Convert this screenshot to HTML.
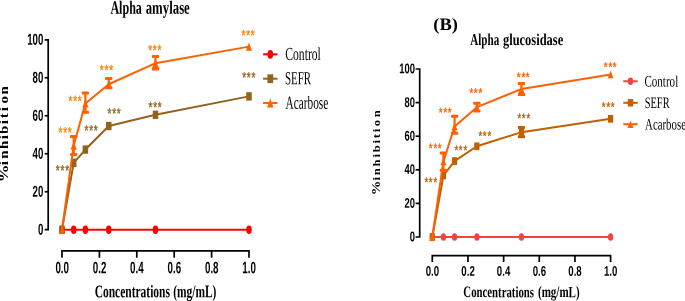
<!DOCTYPE html>
<html><head><meta charset="utf-8"><title>Enzyme inhibition</title>
<style>html,body{margin:0;padding:0;background:#fff}svg{display:block;will-change:transform}</style></head>
<body><svg width="685" height="301" viewBox="0 0 685 301">
<rect width="685" height="301" fill="#fff"/>
<path d="M44.70 39.80 H48.20 V229.70 H44.70" fill="none" stroke="#000" stroke-width="1.70"/>
<path d="M44.70 77.78 H48.20" stroke="#000" stroke-width="1.70"/>
<path d="M44.70 115.76 H48.20" stroke="#000" stroke-width="1.70"/>
<path d="M44.70 153.74 H48.20" stroke="#000" stroke-width="1.70"/>
<path d="M44.70 191.72 H48.20" stroke="#000" stroke-width="1.70"/>
<path d="M62.00 257.70 V250.80 H249.00 V257.70" fill="none" stroke="#000" stroke-width="1.70"/>
<path d="M99.40 250.80 V257.70" stroke="#000" stroke-width="1.70"/>
<path d="M136.80 250.80 V257.70" stroke="#000" stroke-width="1.70"/>
<path d="M174.20 250.80 V257.70" stroke="#000" stroke-width="1.70"/>
<path d="M211.60 250.80 V257.70" stroke="#000" stroke-width="1.70"/>
<path d="M62.00 229.70 H249.00" stroke="#FF0000" stroke-width="2"/>
<ellipse cx="62.00" cy="229.70" rx="2.75" ry="4.20" fill="#FF0000"/>
<ellipse cx="73.69" cy="229.70" rx="2.75" ry="4.20" fill="#FF0000"/>
<ellipse cx="85.38" cy="229.70" rx="2.75" ry="4.20" fill="#FF0000"/>
<ellipse cx="108.75" cy="229.70" rx="2.75" ry="4.20" fill="#FF0000"/>
<ellipse cx="155.50" cy="229.70" rx="2.75" ry="4.20" fill="#FF0000"/>
<ellipse cx="249.00" cy="229.70" rx="2.75" ry="4.20" fill="#FF0000"/>
<polyline points="62.00,229.70 73.69,162.86 85.38,149.56 108.75,126.01 155.50,114.81 249.00,96.39" fill="none" stroke="#93631E" stroke-width="2" stroke-linejoin="round"/>
<rect x="59.25" y="225.50" width="5.50" height="8.40" fill="#93631E"/>
<rect x="70.94" y="158.66" width="5.50" height="8.40" fill="#93631E"/>
<rect x="82.62" y="145.36" width="5.50" height="8.40" fill="#93631E"/>
<rect x="106.00" y="121.81" width="5.50" height="8.40" fill="#93631E"/>
<rect x="152.75" y="110.61" width="5.50" height="8.40" fill="#93631E"/>
<rect x="246.25" y="92.19" width="5.50" height="8.40" fill="#93631E"/>
<polyline points="62.00,229.70 73.69,145.57 85.38,103.42 108.75,84.24 155.50,63.16 249.00,46.64" fill="none" stroke="#FF6000" stroke-width="2" stroke-linejoin="round"/>
<path d="M62.00 225.50 L65.05 233.90 L58.95 233.90 Z" fill="#FF6000"/>
<path d="M73.69 136.46 V154.40" stroke="#FF6000" stroke-width="2.2" fill="none"/><rect x="70.04" y="134.96" width="7.30" height="3.00" rx="0.9" fill="#FF6000"/><rect x="70.04" y="152.90" width="7.30" height="3.00" rx="0.9" fill="#FF6000"/>
<path d="M73.69 141.37 L76.74 149.77 L70.64 149.77 Z" fill="#FF6000"/>
<path d="M85.38 92.97 V112.34" stroke="#FF6000" stroke-width="2.2" fill="none"/><rect x="81.72" y="91.47" width="7.30" height="3.00" rx="0.9" fill="#FF6000"/><rect x="81.72" y="110.84" width="7.30" height="3.00" rx="0.9" fill="#FF6000"/>
<path d="M85.38 99.22 L88.42 107.62 L82.33 107.62 Z" fill="#FF6000"/>
<path d="M108.75 78.54 V87.65" stroke="#FF6000" stroke-width="2.2" fill="none"/><rect x="105.10" y="77.04" width="7.30" height="3.00" rx="0.9" fill="#FF6000"/><rect x="105.10" y="86.15" width="7.30" height="3.00" rx="0.9" fill="#FF6000"/>
<path d="M108.75 80.04 L111.80 88.44 L105.70 88.44 Z" fill="#FF6000"/>
<path d="M155.50 56.51 V69.04" stroke="#FF6000" stroke-width="2.2" fill="none"/><rect x="151.85" y="55.01" width="7.30" height="3.00" rx="0.9" fill="#FF6000"/><rect x="151.85" y="67.54" width="7.30" height="3.00" rx="0.9" fill="#FF6000"/>
<path d="M155.50 58.96 L158.55 67.36 L159.10 69.04 L151.90 69.04 L152.45 67.36 Z" fill="#FF6000"/>
<path d="M249.00 42.44 L252.05 50.84 L245.95 50.84 Z" fill="#FF6000"/>
<path d="M263.10 54.30 H277.50" stroke="#FF0000" stroke-width="2"/>
<ellipse cx="270.30" cy="54.30" rx="2.90" ry="4.40" fill="#FF0000"/>
<path d="M263.10 78.70 H277.50" stroke="#93631E" stroke-width="2"/>
<rect x="267.40" y="74.30" width="5.80" height="8.80" fill="#93631E"/>
<path d="M263.10 103.00 H277.50" stroke="#FF6000" stroke-width="2"/>
<path d="M270.30 98.60 L273.50 107.40 L267.10 107.40 Z" fill="#FF6000"/>
<text transform="translate(7.8 182.30) rotate(-90) scale(1.22 1)" font-family="'Liberation Serif', serif" font-weight="bold" font-size="12.3" letter-spacing="1.25" fill="#000" dx="0 -1.9 0.6 0 0 -0.5 0 0.3 0.4 1.5 0"><tspan font-size="14.60">%</tspan>inhibition</text>
<path d="M415.60 69.00 H419.70 V237.00 H415.60" fill="none" stroke="#000" stroke-width="1.70"/>
<path d="M415.60 102.60 H419.70" stroke="#000" stroke-width="1.70"/>
<path d="M415.60 136.20 H419.70" stroke="#000" stroke-width="1.70"/>
<path d="M415.60 169.80 H419.70" stroke="#000" stroke-width="1.70"/>
<path d="M415.60 203.40 H419.70" stroke="#000" stroke-width="1.70"/>
<path d="M432.30 262.00 V255.70 H610.60 V262.00" fill="none" stroke="#000" stroke-width="1.70"/>
<path d="M467.96 255.70 V262.00" stroke="#000" stroke-width="1.70"/>
<path d="M503.62 255.70 V262.00" stroke="#000" stroke-width="1.70"/>
<path d="M539.28 255.70 V262.00" stroke="#000" stroke-width="1.70"/>
<path d="M574.94 255.70 V262.00" stroke="#000" stroke-width="1.70"/>
<path d="M432.30 237.00 H610.60" stroke="#F74040" stroke-width="2"/>
<ellipse cx="432.30" cy="237.00" rx="2.60" ry="3.85" fill="#F74040"/>
<ellipse cx="443.44" cy="237.00" rx="2.60" ry="3.85" fill="#F74040"/>
<ellipse cx="454.59" cy="237.00" rx="2.60" ry="3.85" fill="#F74040"/>
<ellipse cx="476.88" cy="237.00" rx="2.60" ry="3.85" fill="#F74040"/>
<ellipse cx="521.45" cy="237.00" rx="2.60" ry="3.85" fill="#F74040"/>
<ellipse cx="610.60" cy="237.00" rx="2.60" ry="3.85" fill="#F74040"/>
<polyline points="432.30,237.00 443.44,175.51 454.59,161.06 476.88,146.28 521.45,132.17 610.60,118.81" fill="none" stroke="#C06000" stroke-width="2" stroke-linejoin="round"/>
<rect x="429.70" y="233.15" width="5.20" height="7.70" fill="#C06000"/>
<rect x="440.84" y="171.66" width="5.20" height="7.70" fill="#C06000"/>
<rect x="451.99" y="157.21" width="5.20" height="7.70" fill="#C06000"/>
<rect x="474.27" y="142.43" width="5.20" height="7.70" fill="#C06000"/>
<path d="M521.45 127.46 V136.70" stroke="#C06000" stroke-width="2.2" fill="none"/><rect x="517.80" y="125.96" width="7.30" height="3.00" rx="0.9" fill="#C06000"/><rect x="517.80" y="135.20" width="7.30" height="3.00" rx="0.9" fill="#C06000"/>
<rect x="518.85" y="128.32" width="5.20" height="7.70" fill="#C06000"/>
<rect x="608.00" y="114.96" width="5.20" height="7.70" fill="#C06000"/>
<polyline points="432.30,237.00 443.44,161.40 454.59,126.46 476.88,107.14 521.45,88.99 610.60,74.46" fill="none" stroke="#FF6000" stroke-width="2" stroke-linejoin="round"/>
<path d="M432.30 233.15 L435.20 240.85 L429.40 240.85 Z" fill="#FF6000"/>
<path d="M443.44 153.00 V170.30" stroke="#FF6000" stroke-width="2.2" fill="none"/><rect x="439.79" y="151.50" width="7.30" height="3.00" rx="0.9" fill="#FF6000"/><rect x="439.79" y="168.80" width="7.30" height="3.00" rx="0.9" fill="#FF6000"/>
<path d="M443.44 157.55 L446.34 165.25 L440.54 165.25 Z" fill="#FF6000"/>
<path d="M454.59 116.21 V133.34" stroke="#FF6000" stroke-width="2.2" fill="none"/><rect x="450.94" y="114.71" width="7.30" height="3.00" rx="0.9" fill="#FF6000"/><rect x="450.94" y="131.84" width="7.30" height="3.00" rx="0.9" fill="#FF6000"/>
<path d="M454.59 122.61 L457.49 130.31 L451.69 130.31 Z" fill="#FF6000"/>
<path d="M476.88 103.27 V111.00" stroke="#FF6000" stroke-width="2.2" fill="none"/><rect x="473.23" y="101.77" width="7.30" height="3.00" rx="0.9" fill="#FF6000"/><rect x="473.23" y="109.50" width="7.30" height="3.00" rx="0.9" fill="#FF6000"/>
<path d="M476.88 103.29 L479.78 110.99 L480.48 111.00 L473.27 111.00 L473.97 110.99 Z" fill="#FF6000"/>
<path d="M521.45 83.62 V94.54" stroke="#FF6000" stroke-width="2.2" fill="none"/><rect x="517.80" y="82.12" width="7.30" height="3.00" rx="0.9" fill="#FF6000"/><rect x="517.80" y="93.04" width="7.30" height="3.00" rx="0.9" fill="#FF6000"/>
<path d="M521.45 85.14 L524.35 92.84 L525.05 94.54 L517.85 94.54 L518.55 92.84 Z" fill="#FF6000"/>
<path d="M610.60 70.61 L613.50 78.31 L607.70 78.31 Z" fill="#FF6000"/>
<path d="M623.30 81.25 H637.70" stroke="#F74040" stroke-width="2"/>
<ellipse cx="630.50" cy="81.25" rx="2.70" ry="3.70" fill="#F74040"/>
<path d="M623.30 102.80 H637.70" stroke="#C06000" stroke-width="2"/>
<rect x="627.80" y="99.10" width="5.40" height="7.40" fill="#C06000"/>
<path d="M623.30 124.20 H637.70" stroke="#FF6000" stroke-width="2"/>
<path d="M630.50 120.50 L633.50 127.90 L627.50 127.90 Z" fill="#FF6000"/>
<text transform="translate(380.3 195.30) rotate(-90) scale(1.17 1)" font-family="'Liberation Serif', serif" font-weight="bold" font-size="10.8" letter-spacing="1.50" fill="#000" dx="0 -1.3 0 0 0 0 0 0 0 0.7 0.7"><tspan font-size="12.50">%</tspan>inhibition</text>
<text transform="translate(110.38 13.80) rotate(0.05) scale(0.6414 1)" font-family="'Liberation Serif', serif" font-weight="bold" font-size="18.80" fill="#000">Alpha</text>
<text transform="translate(145.68 13.80) rotate(0.05) scale(0.6819 1)" font-family="'Liberation Serif', serif" font-weight="bold" font-size="18.80" fill="#000">amylase</text>
<text transform="translate(470.29 45.00) rotate(0.05) scale(0.6710 1)" font-family="'Liberation Serif', serif" font-weight="bold" font-size="16.50" fill="#000">Alpha</text>
<text transform="translate(502.97 45.00) rotate(0.05) scale(0.7555 1)" font-family="'Liberation Serif', serif" font-weight="bold" font-size="16.50" fill="#000">glucosidase</text>
<text transform="translate(433.29 30.10) rotate(0.05) scale(1.0558 1)" font-family="'Liberation Serif', serif" font-weight="bold" font-size="17.50" fill="#000">(B)</text>
<text transform="translate(94.64 297.20) rotate(0.05) scale(0.6457 1)" font-family="'Liberation Serif', serif" font-weight="bold" font-size="17.80" fill="#000">Concentrations</text>
<text transform="translate(173.20 297.20) rotate(0.05) scale(0.6427 1)" font-family="'Liberation Serif', serif" font-weight="bold" font-size="17.80" fill="#000">(mg/mL)</text>
<text transform="translate(463.37 297.10) rotate(0.05) scale(0.6825 1)" font-family="'Liberation Serif', serif" font-weight="bold" font-size="15.80" fill="#000">Concentrations</text>
<text transform="translate(538.01 297.10) rotate(0.05) scale(0.6983 1)" font-family="'Liberation Serif', serif" font-weight="bold" font-size="15.80" fill="#000">(mg/mL)</text>
<text transform="translate(285.22 59.90) rotate(0.05) scale(0.6301 1)" font-family="'Liberation Serif', serif" font-weight="normal" font-size="18.50" fill="#000">Control</text>
<text transform="translate(284.97 84.30) rotate(0.05) scale(0.5913 1)" font-family="'Liberation Serif', serif" font-weight="normal" font-size="18.50" fill="#000">SEFR</text>
<text transform="translate(285.59 108.70) rotate(0.05) scale(0.6098 1)" font-family="'Liberation Serif', serif" font-weight="normal" font-size="18.50" fill="#000">Acarbose</text>
<text transform="translate(644.44 86.60) rotate(0.05) scale(0.6909 1)" font-family="'Liberation Serif', serif" font-weight="normal" font-size="16.00" fill="#000">Control</text>
<text transform="translate(644.70 108.00) rotate(0.05) scale(0.6513 1)" font-family="'Liberation Serif', serif" font-weight="normal" font-size="16.00" fill="#000">SEFR</text>
<text transform="translate(645.09 129.50) rotate(0.05) scale(0.6766 1)" font-family="'Liberation Serif', serif" font-weight="normal" font-size="16.00" fill="#000">Acarbose</text>
<text transform="translate(27.19 44.79) rotate(0.05) scale(0.6052 1)" font-family="'Liberation Sans', sans-serif" font-weight="bold" font-size="15.95" fill="#000">100</text>
<text transform="translate(32.56 82.77) rotate(0.05) scale(0.6052 1)" font-family="'Liberation Sans', sans-serif" font-weight="bold" font-size="15.95" fill="#000">80</text>
<text transform="translate(32.56 120.75) rotate(0.05) scale(0.6052 1)" font-family="'Liberation Sans', sans-serif" font-weight="bold" font-size="15.95" fill="#000">60</text>
<text transform="translate(32.56 158.73) rotate(0.05) scale(0.6052 1)" font-family="'Liberation Sans', sans-serif" font-weight="bold" font-size="15.95" fill="#000">40</text>
<text transform="translate(32.56 196.71) rotate(0.05) scale(0.6052 1)" font-family="'Liberation Sans', sans-serif" font-weight="bold" font-size="15.95" fill="#000">20</text>
<text transform="translate(37.93 234.69) rotate(0.05) scale(0.6052 1)" font-family="'Liberation Sans', sans-serif" font-weight="bold" font-size="15.95" fill="#000">0</text>
<text transform="translate(55.41 273.23) rotate(0.05) scale(0.5872 1)" font-family="'Liberation Sans', sans-serif" font-weight="bold" font-size="16.65" fill="#000">0.0</text>
<text transform="translate(92.81 273.23) rotate(0.05) scale(0.5872 1)" font-family="'Liberation Sans', sans-serif" font-weight="bold" font-size="16.65" fill="#000">0.2</text>
<text transform="translate(130.04 273.23) rotate(0.05) scale(0.5872 1)" font-family="'Liberation Sans', sans-serif" font-weight="bold" font-size="16.65" fill="#000">0.4</text>
<text transform="translate(167.59 273.23) rotate(0.05) scale(0.5872 1)" font-family="'Liberation Sans', sans-serif" font-weight="bold" font-size="16.65" fill="#000">0.6</text>
<text transform="translate(204.96 273.23) rotate(0.05) scale(0.5872 1)" font-family="'Liberation Sans', sans-serif" font-weight="bold" font-size="16.65" fill="#000">0.8</text>
<text transform="translate(242.30 273.23) rotate(0.05) scale(0.5872 1)" font-family="'Liberation Sans', sans-serif" font-weight="bold" font-size="16.65" fill="#000">1.0</text>
<text transform="translate(399.31 73.31) rotate(0.05) scale(0.6658 1)" font-family="'Liberation Sans', sans-serif" font-weight="bold" font-size="14.11" fill="#000">100</text>
<text transform="translate(404.53 106.91) rotate(0.05) scale(0.6658 1)" font-family="'Liberation Sans', sans-serif" font-weight="bold" font-size="14.11" fill="#000">80</text>
<text transform="translate(404.53 140.51) rotate(0.05) scale(0.6658 1)" font-family="'Liberation Sans', sans-serif" font-weight="bold" font-size="14.11" fill="#000">60</text>
<text transform="translate(404.53 174.11) rotate(0.05) scale(0.6658 1)" font-family="'Liberation Sans', sans-serif" font-weight="bold" font-size="14.11" fill="#000">40</text>
<text transform="translate(404.53 207.71) rotate(0.05) scale(0.6658 1)" font-family="'Liberation Sans', sans-serif" font-weight="bold" font-size="14.11" fill="#000">20</text>
<text transform="translate(409.76 241.31) rotate(0.05) scale(0.6658 1)" font-family="'Liberation Sans', sans-serif" font-weight="bold" font-size="14.11" fill="#000">0</text>
<text transform="translate(425.72 275.76) rotate(0.05) scale(0.6889 1)" font-family="'Liberation Sans', sans-serif" font-weight="bold" font-size="13.97" fill="#000">0.0</text>
<text transform="translate(461.37 275.76) rotate(0.05) scale(0.6889 1)" font-family="'Liberation Sans', sans-serif" font-weight="bold" font-size="13.97" fill="#000">0.2</text>
<text transform="translate(496.87 275.76) rotate(0.05) scale(0.6889 1)" font-family="'Liberation Sans', sans-serif" font-weight="bold" font-size="13.97" fill="#000">0.4</text>
<text transform="translate(532.68 275.76) rotate(0.05) scale(0.6889 1)" font-family="'Liberation Sans', sans-serif" font-weight="bold" font-size="13.97" fill="#000">0.6</text>
<text transform="translate(568.31 275.76) rotate(0.05) scale(0.6889 1)" font-family="'Liberation Sans', sans-serif" font-weight="bold" font-size="13.97" fill="#000">0.8</text>
<text transform="translate(603.91 275.76) rotate(0.05) scale(0.6889 1)" font-family="'Liberation Sans', sans-serif" font-weight="bold" font-size="13.97" fill="#000">1.0</text>
<text transform="translate(58.53 137.43) rotate(0.05) scale(0.6647 1)" x="0.000 7.258 13.878" font-family="'Liberation Sans', sans-serif" font-size="15.02" fill="#FF8000" stroke="#FF8000" stroke-width="0.3" vector-effect="non-scaling-stroke">***</text>
<text transform="translate(68.48 106.11) rotate(0.05) scale(0.6647 1)" x="0.000 7.334 13.953" font-family="'Liberation Sans', sans-serif" font-size="15.02" fill="#FF8000" stroke="#FF8000" stroke-width="0.3" vector-effect="non-scaling-stroke">***</text>
<text transform="translate(99.76 75.26) rotate(0.05) scale(0.6647 1)" x="0.000 7.258 14.442" font-family="'Liberation Sans', sans-serif" font-size="15.02" fill="#FF8000" stroke="#FF8000" stroke-width="0.3" vector-effect="non-scaling-stroke">***</text>
<text transform="translate(148.36 55.31) rotate(0.05) scale(0.6647 1)" x="0.000 6.619 13.614" font-family="'Liberation Sans', sans-serif" font-size="15.02" fill="#FF8000" stroke="#FF8000" stroke-width="0.3" vector-effect="non-scaling-stroke">***</text>
<text transform="translate(241.51 40.16) rotate(0.05) scale(0.6647 1)" x="0.000 7.296 13.915" font-family="'Liberation Sans', sans-serif" font-size="15.02" fill="#FF8000" stroke="#FF8000" stroke-width="0.3" vector-effect="non-scaling-stroke">***</text>
<text transform="translate(55.76 175.58) rotate(0.05) scale(0.6647 1)" x="0.000 7.070 14.442" font-family="'Liberation Sans', sans-serif" font-size="15.02" fill="#93631E" stroke="#93631E" stroke-width="0.3" vector-effect="non-scaling-stroke">***</text>
<text transform="translate(84.46 135.56) rotate(0.05) scale(0.6647 1)" x="0.000 7.371 13.990" font-family="'Liberation Sans', sans-serif" font-size="15.02" fill="#93631E" stroke="#93631E" stroke-width="0.3" vector-effect="non-scaling-stroke">***</text>
<text transform="translate(107.48 118.58) rotate(0.05) scale(0.6647 1)" x="0.000 7.334 13.953" font-family="'Liberation Sans', sans-serif" font-size="15.02" fill="#93631E" stroke="#93631E" stroke-width="0.3" vector-effect="non-scaling-stroke">***</text>
<text transform="translate(148.61 112.16) rotate(0.05) scale(0.6647 1)" x="0.000 7.146 13.765" font-family="'Liberation Sans', sans-serif" font-size="15.02" fill="#93631E" stroke="#93631E" stroke-width="0.3" vector-effect="non-scaling-stroke">***</text>
<text transform="translate(242.36 82.46) rotate(0.05) scale(0.6647 1)" x="0.000 6.619 13.915" font-family="'Liberation Sans', sans-serif" font-size="15.02" fill="#93631E" stroke="#93631E" stroke-width="0.3" vector-effect="non-scaling-stroke">***</text>
<text transform="translate(428.81 152.73) rotate(0.05) scale(0.7127 1)" x="0.000 6.455 12.629" font-family="'Liberation Sans', sans-serif" font-size="13.61" fill="#FF6000" stroke="#FF6000" stroke-width="0.3" vector-effect="non-scaling-stroke">***</text>
<text transform="translate(438.81 117.01) rotate(0.05) scale(0.7127 1)" x="0.000 6.455 12.629" font-family="'Liberation Sans', sans-serif" font-size="13.61" fill="#FF6000" stroke="#FF6000" stroke-width="0.3" vector-effect="non-scaling-stroke">***</text>
<text transform="translate(469.43 97.53) rotate(0.05) scale(0.7127 1)" x="0.000 6.139 12.629" font-family="'Liberation Sans', sans-serif" font-size="13.61" fill="#FF6000" stroke="#FF6000" stroke-width="0.3" vector-effect="non-scaling-stroke">***</text>
<text transform="translate(516.81 81.63) rotate(0.05) scale(0.7127 1)" x="0.000 6.455 12.629" font-family="'Liberation Sans', sans-serif" font-size="13.61" fill="#FF6000" stroke="#FF6000" stroke-width="0.3" vector-effect="non-scaling-stroke">***</text>
<text transform="translate(603.81 71.43) rotate(0.05) scale(0.7127 1)" x="0.000 6.455 12.629" font-family="'Liberation Sans', sans-serif" font-size="13.61" fill="#FF6000" stroke="#FF6000" stroke-width="0.3" vector-effect="non-scaling-stroke">***</text>
<text transform="translate(424.41 186.66) rotate(0.05) scale(0.7127 1)" x="0.000 6.174 12.629" font-family="'Liberation Sans', sans-serif" font-size="13.61" fill="#C06000" stroke="#C06000" stroke-width="0.3" vector-effect="non-scaling-stroke">***</text>
<text transform="translate(454.41 154.66) rotate(0.05) scale(0.7127 1)" x="0.000 6.174 12.629" font-family="'Liberation Sans', sans-serif" font-size="13.61" fill="#C06000" stroke="#C06000" stroke-width="0.3" vector-effect="non-scaling-stroke">***</text>
<text transform="translate(478.41 140.56) rotate(0.05) scale(0.7127 1)" x="0.000 6.174 12.629" font-family="'Liberation Sans', sans-serif" font-size="13.61" fill="#C06000" stroke="#C06000" stroke-width="0.3" vector-effect="non-scaling-stroke">***</text>
<text transform="translate(517.41 122.76) rotate(0.05) scale(0.7127 1)" x="0.000 6.174 12.629" font-family="'Liberation Sans', sans-serif" font-size="13.61" fill="#C06000" stroke="#C06000" stroke-width="0.3" vector-effect="non-scaling-stroke">***</text>
<text transform="translate(601.81 111.51) rotate(0.05) scale(0.7127 1)" x="0.000 6.455 12.629" font-family="'Liberation Sans', sans-serif" font-size="13.61" fill="#C06000" stroke="#C06000" stroke-width="0.3" vector-effect="non-scaling-stroke">***</text>
</svg></body></html>
